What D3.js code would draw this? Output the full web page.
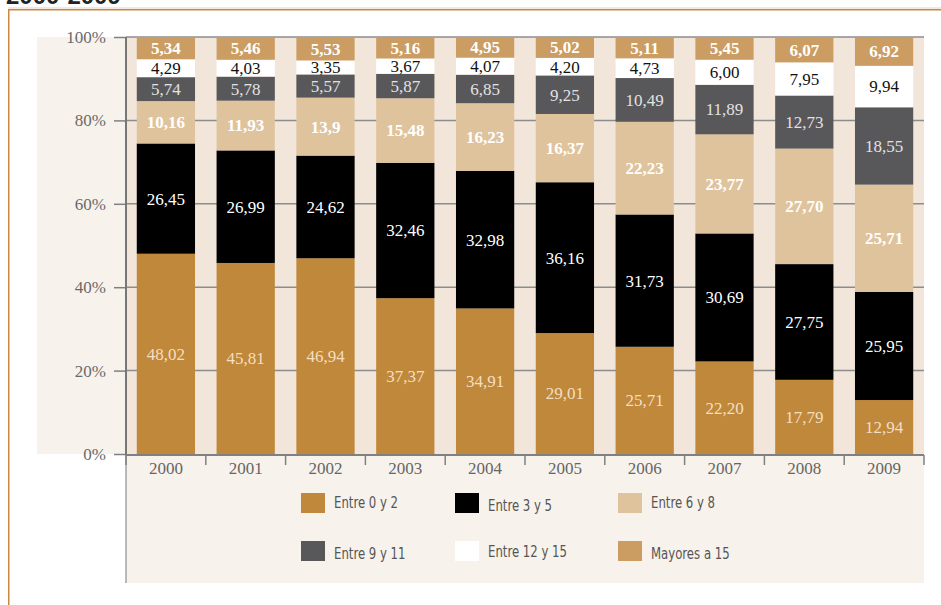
<!DOCTYPE html>
<html>
<head>
<meta charset="utf-8">
<script src="https://cdn.jsdelivr.net/npm/d3@7"></script>
<style>
  html, body { margin: 0; padding: 0; background: #fff; }
  svg { display: block; }
</style>
</head>
<body>
<svg id="chart" width="941" height="605"></svg>
<script>
// datos (porcentajes, coma decimal como en el original)
var years = ["2000", "2001", "2002", "2003", "2004", "2005", "2006", "2007", "2008", "2009"];
var entre0y2 = ["48,02", "45,81", "46,94", "37,37", "34,91", "29,01", "25,71", "22,20", "17,79", "12,94"];
var entre3y5 = ["26,45", "26,99", "24,62", "32,46", "32,98", "36,16", "31,73", "30,69", "27,75", "25,95"];
var entre6y8 = ["10,16", "11,93", "13,9", "15,48", "16,23", "16,37", "22,23", "23,77", "27,70", "25,71"];
var entre9y11 = ["5,74", "5,78", "5,57", "5,87", "6,85", "9,25", "10,49", "11,89", "12,73", "18,55"];
var entre12y15 = ["4,29", "4,03", "3,35", "3,67", "4,07", "4,20", "4,73", "6,00", "7,95", "9,94"];
var mayores15 = ["5,34", "5,46", "5,53", "5,16", "4,95", "5,02", "5,11", "5,45", "6,07", "6,92"];
var yTicks = [0, 20, 40, 60, 80, 100];

var series = [
  { name: "Entre 0 y 2",   vals: entre0y2,   fill: "#c0883a", text: "#f3dfc4", bold: false },
  { name: "Entre 3 y 5",   vals: entre3y5,   fill: "#000000", text: "#ffffff", bold: false },
  { name: "Entre 6 y 8",   vals: entre6y8,   fill: "#dfc39d", text: "#ffffff", bold: true },
  { name: "Entre 9 y 11",  vals: entre9y11,  fill: "#58575a", text: "#e2e2e2", bold: false },
  { name: "Entre 12 y 15", vals: entre12y15, fill: "#ffffff", text: "#111111", bold: false },
  { name: "Mayores a 15",  vals: mayores15,  fill: "#cb9d62", text: "#ffffff", bold: true }
];

function num(s) { return +s.replace(",", "."); }

var svg = d3.select("#chart");
var serif = "'Liberation Serif', 'Times New Roman', serif";
var narrow = "'DejaVu Sans Condensed', 'Liberation Sans', sans-serif";

var pLeft = 126, pRight = 924, pTop = 37, pBottom = 454;

// titulo (cortado arriba en el original)
svg.append("text")
    .attr("x", 6).attr("y", 4)
    .attr("font-family", "'Liberation Sans', Arial, sans-serif")
    .attr("font-weight", "bold")
    .attr("font-size", 24)
    .attr("fill", "#222")
    .text("2000-2009");

svg.append("line")
    .attr("x1", 8).attr("x2", 941).attr("y1", 8).attr("y2", 8)
    .attr("stroke", "#e3d3bb").attr("stroke-width", 1);

// marco naranja
svg.append("rect")
    .attr("x", 8.75).attr("y", 9.75)
    .attr("width", 960).attr("height", 620)
    .attr("fill", "none")
    .attr("stroke", "#c98a3f")
    .attr("stroke-width", 1.5);

// paneles de fondo
svg.append("rect")
    .attr("x", 37).attr("y", pTop).attr("width", pLeft - 37).attr("height", pBottom - pTop)
    .attr("fill", "#f8f2ec");
svg.append("rect")
    .attr("x", pLeft).attr("y", pBottom).attr("width", pRight - pLeft).attr("height", 583 - pBottom)
    .attr("fill", "#f8f2ec");
svg.append("rect")
    .attr("x", pLeft).attr("y", pTop).attr("width", pRight - pLeft).attr("height", pBottom - pTop)
    .attr("fill", "#f2e6da");

var x = d3.scaleBand()
    .domain(years)
    .range([pLeft, pRight])
    .paddingInner(0.27)
    .paddingOuter(0.135);

var y = d3.scaleLinear()
    .domain([0, 100])
    .range([pBottom, pTop]);

// lineas de cuadricula
svg.append("g")
  .selectAll("line")
  .data(yTicks.filter(function(d) { return d > 0; }))
  .enter().append("line")
    .attr("x1", pLeft).attr("x2", pRight)
    .attr("y1", function(d) { return y(d); })
    .attr("y2", function(d) { return y(d); })
    .attr("stroke", "#8c8c8c")
    .attr("stroke-width", 1.5);

// tabla apilada
var rows = years.map(function(yr, i) {
  var r = { year: yr };
  series.forEach(function(s) { r[s.name] = num(s.vals[i]); });
  return r;
});
var stack = d3.stack().keys(series.map(function(s) { return s.name; }))(rows);

var layers = svg.append("g")
  .selectAll("g")
  .data(stack)
  .enter().append("g");

layers.each(function(layer) {
  var s = series[layer.index];
  var g = d3.select(this);
  g.selectAll("rect")
    .data(layer)
    .enter().append("rect")
      .attr("x", function(d) { return x(d.data.year); })
      .attr("width", x.bandwidth())
      .attr("y", function(d) { return y(d[1]); })
      .attr("height", function(d) { return y(d[0]) - y(d[1]); })
      .attr("fill", s.fill);
  g.selectAll("text")
    .data(layer)
    .enter().append("text")
      .attr("x", function(d) { return x(d.data.year) + x.bandwidth() / 2; })
      .attr("y", function(d) { return (y(d[0]) + y(d[1])) / 2; })
      .attr("dy", "0.35em")
      .attr("text-anchor", "middle")
      .attr("font-family", serif)
      .attr("font-size", 17)
      .attr("font-weight", s.bold ? "bold" : "normal")
      .attr("fill", s.text)
      .text(function(d, i) { return s.vals[i]; });
});

// eje Y
var yAxis = svg.append("g")
    .attr("transform", "translate(" + pLeft + ",0)")
    .call(d3.axisLeft(y).tickValues(yTicks).tickSize(12).tickPadding(8)
      .tickFormat(function(d) { return d + "%"; }));
yAxis.select(".domain").remove();
yAxis.selectAll(".tick line").attr("stroke", "#808080").attr("stroke-width", 1.5);
yAxis.selectAll(".tick text")
    .attr("font-family", serif).attr("font-size", 17).attr("fill", "#6a6a6a");

svg.append("line")
    .attr("x1", pLeft).attr("x2", pLeft).attr("y1", pTop).attr("y2", pBottom + 1)
    .attr("stroke", "#777").attr("stroke-width", 2);
svg.append("line")
    .attr("x1", pLeft).attr("x2", pLeft).attr("y1", pBottom).attr("y2", 583)
    .attr("stroke", "#777").attr("stroke-width", 1);

// eje X
var xAxis = svg.append("g")
    .attr("transform", "translate(0," + (pBottom + 1) + ")")
    .call(d3.axisBottom(x).tickSize(0).tickPadding(7));
xAxis.select(".domain").remove();
xAxis.selectAll(".tick text")
    .attr("font-family", serif).attr("font-size", 17).attr("fill", "#666");

svg.append("line")
    .attr("x1", pLeft).attr("x2", pRight).attr("y1", pBottom + 1).attr("y2", pBottom + 1)
    .attr("stroke", "#808080").attr("stroke-width", 2);

// marcas entre categorias
svg.append("g")
  .selectAll("line")
  .data(d3.range(years.length + 1))
  .enter().append("line")
    .attr("x1", function(i) { return pLeft + i * x.step(); })
    .attr("x2", function(i) { return pLeft + i * x.step(); })
    .attr("y1", pBottom + 1).attr("y2", pBottom + 11)
    .attr("stroke", "#808080").attr("stroke-width", 1.5);

// leyenda
var legendX = [301, 455, 618];
var legendY = [493, 541];
var legendTextDy = [[15, 18, 15], [18, 16, 18]];
var legend = svg.append("g")
  .selectAll("g")
  .data(series)
  .enter().append("g")
    .attr("transform", function(d, i) {
      return "translate(" + legendX[i % 3] + "," + legendY[Math.floor(i / 3)] + ")";
    });
legend.append("rect")
    .attr("width", 24).attr("height", 20)
    .attr("fill", function(d) { return d.fill; });
legend.append("text")
    .attr("transform", function(d, i) {
      return "translate(33," + legendTextDy[Math.floor(i / 3)][i % 3] + ") scale(0.84,1)";
    })
    .attr("font-family", narrow)
    .attr("font-size", 15.5)
    .attr("fill", "#555")
    .text(function(d) { return d.name; });
</script>
</body>
</html>
